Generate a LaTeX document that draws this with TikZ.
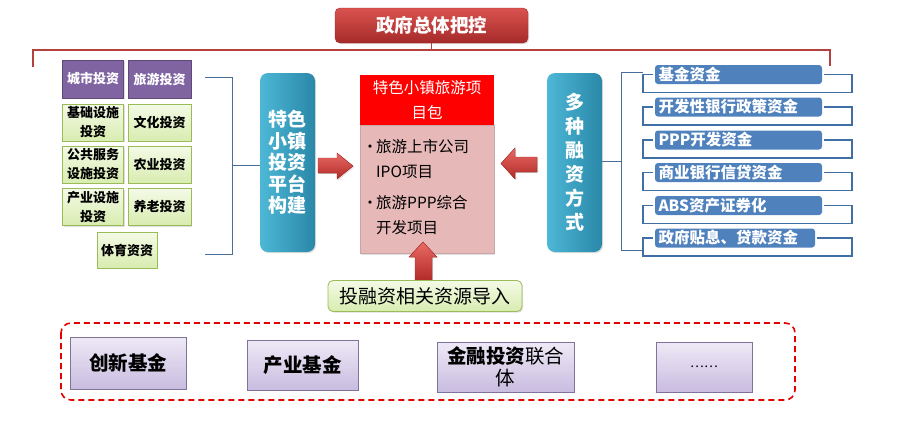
\documentclass[tikz,border=0pt]{standalone}
\usepackage{fontspec}
\setmainfont{Noto Sans CJK SC}
\usetikzlibrary{shadows,shadings,calc}
\definecolor{titleA}{HTML}{D9534F}
\definecolor{titleB}{HTML}{A52A2A}
\definecolor{brk}{HTML}{B5413E}
\definecolor{purp}{HTML}{8064A2}
\definecolor{purpB}{HTML}{5F497A}
\definecolor{grnA}{HTML}{F4FAE6}
\definecolor{grnB}{HTML}{D8ECB0}
\definecolor{grnE}{HTML}{9BBB59}
\definecolor{tealA}{HTML}{4DB8D6}
\definecolor{tealB}{HTML}{2A87A8}
\definecolor{lnk}{HTML}{4A6E9A}
\definecolor{bluF}{HTML}{4F81BD}
\definecolor{bluL}{HTML}{3F6FA5}
\definecolor{pinkF}{HTML}{E6B9B8}
\definecolor{lavA}{HTML}{EEE9F6}
\definecolor{lavB}{HTML}{C9BCE0}
\definecolor{lavE}{HTML}{7F7399}
\definecolor{arrA}{HTML}{E86A66}
\definecolor{arrB}{HTML}{B22A26}
\begin{document}
\begin{tikzpicture}[x=1pt,y=-1pt,
  box/.style={inner sep=0pt,align=center},
  shd/.style={drop shadow={shadow xshift=1.2pt,shadow yshift=-1.2pt,opacity=0.25}},
  titlebox/.style={box,shd,rounded corners=5pt,top color=titleA,bottom color=titleB,draw=titleB,text=white,font=\fontsize{18.5}{20}\selectfont\bfseries},
  purpbox/.style={box,shd,fill=purp,draw=purpB,line width=0.8pt,text=white,font=\fontsize{13}{15}\selectfont\bfseries,minimum width=61pt,minimum height=38pt},
  grnbox/.style={box,shd,top color=grnA,bottom color=grnB,draw=grnE,line width=0.6pt,font=\fontsize{13}{19}\selectfont\bfseries,minimum width=61pt,minimum height=37pt},
  tealbox/.style={box,shd,rounded corners=8pt,left color=tealA,right color=tealB,draw=none,text=white,font=\fontsize{19}{21}\selectfont\bfseries,minimum width=55pt,minimum height=179pt},
  redarrow/.style={shd,top color=arrA,bottom color=arrB,draw=arrB,line width=0.4pt},
  bluebox/.style={box,rounded corners=3pt,fill=bluF,draw=none,text=white,font=\fontsize{15.5}{17}\selectfont\bfseries,minimum height=19pt,align=left},
  frm/.style={draw=bluL,line width=1.2pt},
  lavbox/.style={box,shd,top color=lavA,bottom color=lavB,draw=lavE,line width=0.6pt,font=\fontsize{19.5}{22}\selectfont\bfseries}
]
\useasboundingbox (0,0) rectangle (897,440);
% title
\node[titlebox,minimum width=193pt,minimum height=35pt] (title) at (431.5,25.5) {政府总体把控};
\coordinate (tl) at (33,67);
\coordinate (tr) at (830,66);
\draw[brk,line width=1.5pt] (tl) -- (33,50) -- (830,50) -- (tr);
\draw[brk,line width=1.5pt] (title.south) -- (title.south |- 0,50);
% left grid
\node[purpbox] (c1) at (93,79) {城市投资};
\node[purpbox,minimum width=63pt] (c2) at (159.5,79) {旅游投资};
\node[grnbox] (g1) at (93,122.5) {基础设施\\投资};
\node[grnbox,minimum width=63pt] (g2) at (159.5,122.5) {文化投资};
\node[grnbox] (g3) at (93,164.5) {公共服务\\设施投资};
\node[grnbox,minimum width=63pt] (g4) at (159.5,164.5) {农业投资};
\node[grnbox] (g5) at (93,207) {产业设施\\投资};
\node[grnbox,minimum width=63pt] (g6) at (159.5,207) {养老投资};
\node[grnbox,minimum width=60pt,minimum height=36pt] (g7) at (127,250) {体育资资};
% platform
\node[tealbox,font=\fontsize{19}{21.5}\selectfont\bfseries] (plat) at (287.5,162.5) {特色\\小镇\\投资\\平台\\构建};
\coordinate (lb1) at (205,77);
\coordinate (lb2) at (205,254);
\draw[lnk,line width=1pt] (lb1) -- (232,77) -- (232,254) -- (lb2);
\draw[lnk,line width=1pt] (232,165) -- (plat.west |- 0,165);
% center package
\node[box,fill=red,minimum width=134pt,minimum height=50pt,text=white,font=\fontsize{15.5}{25}\selectfont] (hdr) at (427,100) {特色小镇旅游项\\目包};
\node[box,shd,fill=pinkF,draw=pinkF!70!gray,line width=0.5pt,minimum width=134pt,minimum height=128pt,anchor=north] (pkg) at (hdr.south) {};
\node[anchor=north west,inner sep=0pt,font=\fontsize{15.5}{25}\selectfont,align=left] (pkgtxt) at (364,135)
  {\begin{tabular}{@{}l@{}l@{}}
   \makebox[12pt][c]{•}&旅游上市公司\\
    &IPO项目\\[6pt]
   \makebox[12pt][c]{•}&旅游PPP综合\\
    &开发项目
   \end{tabular}};
% arrows
\filldraw[redarrow] (318,158) -- (337,158) -- (337,153) -- (353,166) -- (337,179) -- (337,173) -- (318,173) -- cycle;
\filldraw[redarrow] (537,157) -- (515,157) -- (515,148) -- (501,163.5) -- (515,179) -- (515,172) -- (537,172) -- cycle;
\filldraw[redarrow] (415,281) -- (415,257) -- (409,257) -- (423,242) -- (437,257) -- (432,257) -- (432,281) -- cycle;
% resources
\node[box,shd,rounded corners=5pt,top color=grnA,bottom color=grnB,draw=grnE,line width=0.8pt,minimum width=194pt,minimum height=31pt,font=\fontsize{19}{21}\selectfont] (res) at (425,296) {投融资相关资源导入};
% financing
\node[tealbox,font=\fontsize{19}{24}\selectfont\bfseries] (fin) at (574.5,162.5) {多\\种\\融\\资\\方\\式};
\draw[lnk,line width=1pt] (fin.east |- 0,161) -- (621,161);
\draw[lnk,line width=1pt] (643,72) -- (621,72) -- (621,250) -- (643,250);
\foreach \t/\y [count=\i] in {基金资金/74.5,开发性银行政策资金/107,PPP开发资金/140,商业银行信贷资金/172.5,ABS资产证券化/205.5}{
  \node[bluebox,minimum width=167pt,text width=160pt] (f\i) at (738.5,\y) {\t};
  \draw[frm] ($(f\i.west)+(-2,0)$) -- (643,\y) -- (643,\y+18) -- (852,\y+18) -- (852,\y) -- ($(f\i.east)+(2,0)$);
}
\node[bluebox,minimum width=160pt,text width=153pt] (f6) at (735,238) {政府贴息、贷款资金};
\draw[frm] ($(f6.west)+(-2,0)$) -- (643,238) -- (643,256) -- (852,256) -- (852,238) -- ($(f6.east)+(2,0)$);
% bottom
\draw[red!90!black,line width=1.6pt,dash pattern=on 6pt off 4pt,rounded corners=10pt] (61,323) rectangle (795,400);
\node[lavbox,minimum width=116pt,minimum height=52pt] (b1) at (128,363) {创新基金};
\node[lavbox,minimum width=111pt,minimum height=50pt] (b2) at (302.5,365) {产业基金};
\node[lavbox,minimum width=137pt,minimum height=50pt,font=\fontsize{19.5}{22}\selectfont] (b3) at (505.5,367) {\textbf{金融投资}联合\\体};
\node[lavbox,minimum width=96pt,minimum height=50pt,font=\fontsize{13}{15}\selectfont] (b4) at (704,367) {……};
\end{tikzpicture}
\end{document}
